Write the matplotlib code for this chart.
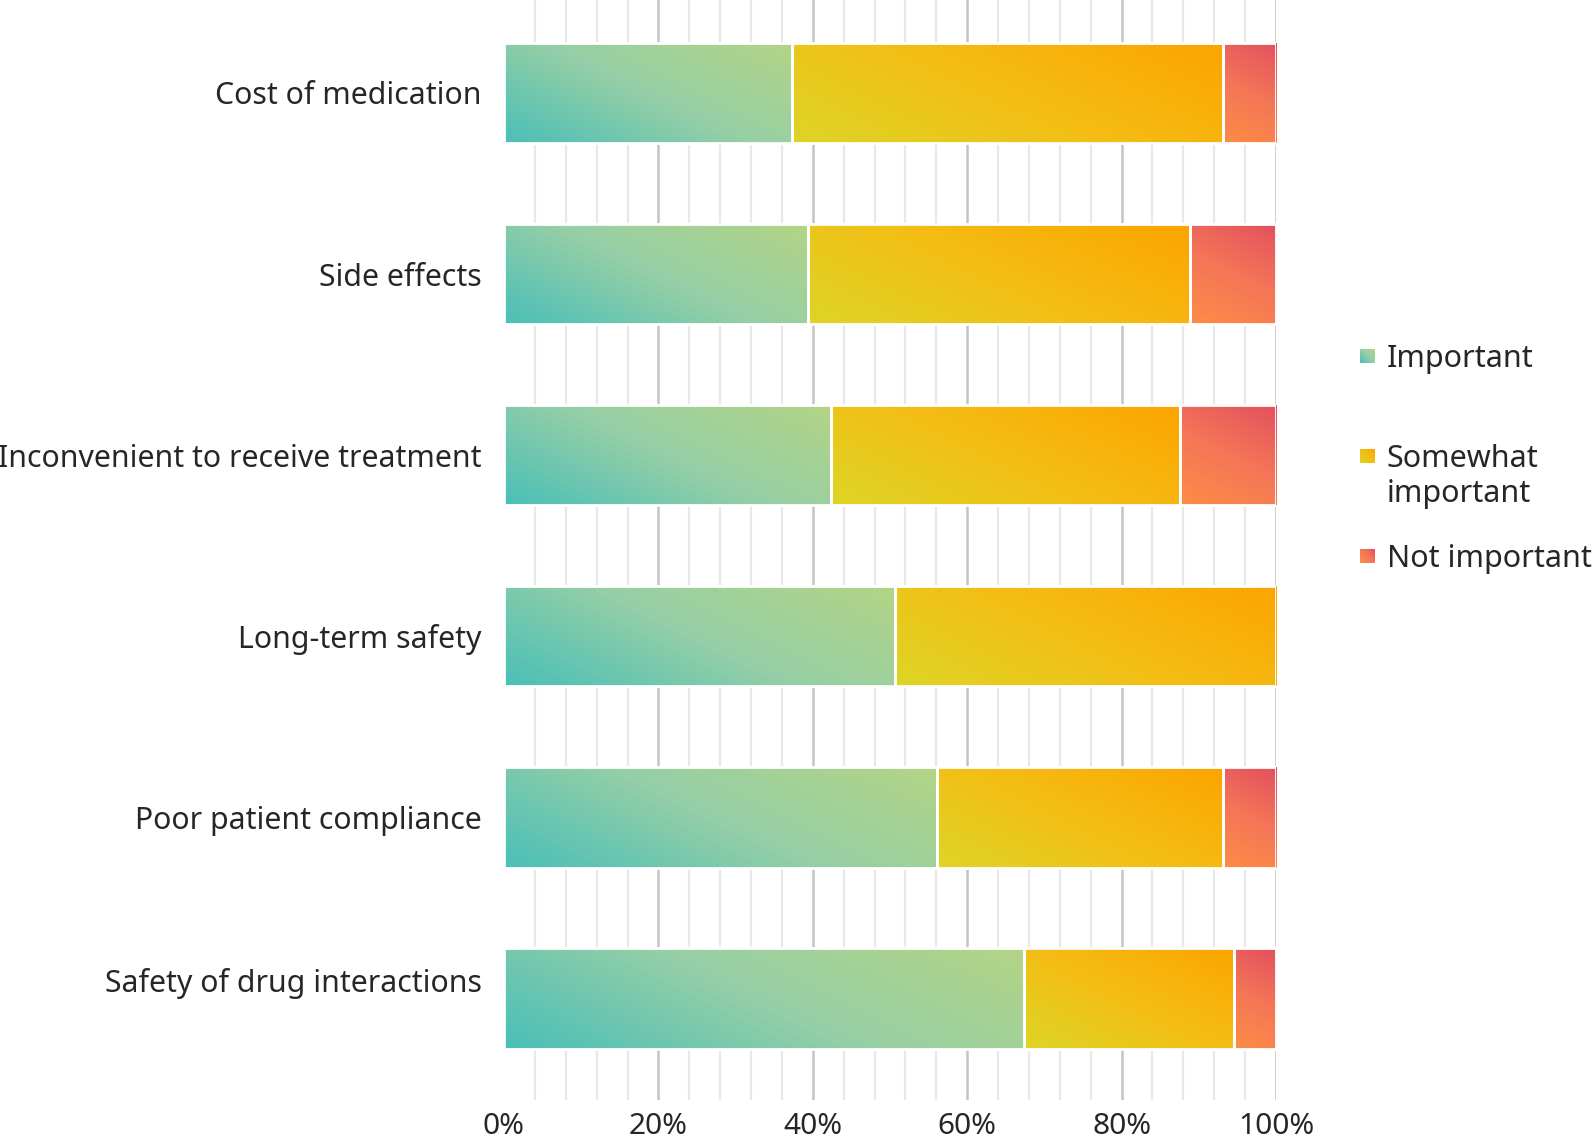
import numpy as np
import matplotlib
matplotlib.use("Agg")
import matplotlib.pyplot as plt
from matplotlib.colors import to_rgb
from matplotlib.patches import Rectangle
import matplotlib.transforms as mtransforms

plt.rcParams['font.family'] = ['Noto Sans', 'DejaVu Sans']

categories = ["Cost of medication", "Side effects", "Inconvenient to receive treatment",
              "Long-term safety", "Poor patient compliance", "Safety of drug interactions"]
important = [37.3, 39.4, 42.3, 50.6, 56.1, 67.3]
somewhat = [55.8, 49.5, 45.2, 49.4, 37.0, 27.3]
not_important = [6.9, 11.1, 12.5, 0.0, 6.9, 5.4]
series_names = ["Important", "Somewhat\nimportant", "Not important"]
xtick_vals = [0, 20, 40, 60, 80, 100]
xtick_labels = ["0%", "20%", "40%", "60%", "80%", "100%"]

# gradient stops (position, colour) for each series
grads = [
    [(0.0, "#4abfb8"), (0.5, "#96cfa6"), (1.0, "#b3d485")],
    [(0.0, "#ddd526"), (0.5, "#f4bd15"), (1.0, "#fca400")],
    [(0.0, "#fd8d45"), (0.5, "#f47657"), (1.0, "#e4505f")],
]
text_color = "#262626"

W, H = 1594, 1142
fig = plt.figure(figsize=(W / 100, H / 100), dpi=100)
ax_left, ax_right, ax_top, ax_bot = 504, 1276, 0, 1100
ax = fig.add_axes([ax_left / W, 1 - ax_bot / H, (ax_right - ax_left) / W, (ax_bot - ax_top) / H])


def grad_img(stops, wpx, hpx, nx=256, ny=64):
    pos = np.array([p for p, _ in stops])
    cols = np.array([to_rgb(c) for _, c in stops])
    xx, yy = np.meshgrid(np.linspace(0, 1, nx), np.linspace(0, 1, ny))
    t = (xx * wpx + yy * hpx) / (wpx + hpx)
    out = np.empty(t.shape + (3,))
    for k in range(3):
        out[..., k] = np.interp(t, pos, cols[:, k])
    return out


# gridlines
minor = [v for v in range(4, 101, 4) if v % 20 != 0]
ax.vlines(minor, -1, 7, colors="#e8e8e8", lw=1.6, zorder=0)
ax.vlines([20, 40, 60, 80, 100], -1, 7, colors="#c4c4c4", lw=1.8, zorder=0)

bar_h = 0.555
ylim = (5 + 0.561, -0.513)
px_per_x = (ax_right - ax_left) / 100.0
px_per_y = (ax_bot - ax_top) / (ylim[0] - ylim[1])
series = [important, somewhat, not_important]
for i, cat in enumerate(categories):
    left = 0.0
    for s, vals in enumerate(series):
        w = vals[i]
        if w <= 0:
            continue
        x0, x1 = left, left + w
        ytop, ybot = i - bar_h / 2, i + bar_h / 2
        img = grad_img(grads[s], w * px_per_x, bar_h * px_per_y * 2.0)
        rect = Rectangle((x0, ytop), w, bar_h, facecolor="none", edgecolor="none", zorder=2)
        ax.add_patch(rect)
        im = ax.imshow(img, extent=(x0, x1, ybot, ytop), origin="lower",
                       aspect="auto", interpolation="bilinear", zorder=2)
        im.set_clip_path(rect)
        ax.add_patch(Rectangle((x0, ytop), w, bar_h, facecolor="none",
                               edgecolor="white", lw=2.0, zorder=3))
        left = x1

ax.set_xlim(0, 100)
ax.set_ylim(*ylim)
ax.set_xticks(xtick_vals)
ax.set_xticklabels(xtick_labels)
ax.set_yticks(range(len(categories)))
ax.set_yticklabels(categories)
ax.tick_params(axis="y", length=0, labelsize=21.8, colors=text_color, pad=16)
ax.tick_params(axis="x", length=0, labelsize=21.5, colors=text_color, pad=9)
for sp in ax.spines.values():
    sp.set_visible(False)

# small vertical offset of last category label as in reference
lab = ax.get_yticklabels()[-1]
lab.set_transform(lab.get_transform() + mtransforms.ScaledTranslation(0, 18 / 100, fig.dpi_scale_trans))

# legend (manual)
leg_y = [356, 456, 556]
sq = 15
for s, name in enumerate(series_names):
    yc = leg_y[s]
    lax = fig.add_axes([1360 / W, 1 - (yc + sq / 2) / H, sq / W, sq / H])
    lax.imshow(grad_img(grads[s], 1, 1, nx=16, ny=16), origin="lower", aspect="auto",
               interpolation="bilinear")
    lax.axis("off")
    if "\n" in name:
        fig.text(1387 / W, 1 - (yc - 12) / H, name, fontsize=22, color=text_color,
                 ha="left", va="top", linespacing=1.22)
    else:
        fig.text(1387 / W, 1 - (yc + 3) / H, name, fontsize=22, color=text_color,
                 ha="left", va="center")

fig.savefig("out.png", dpi=100)
